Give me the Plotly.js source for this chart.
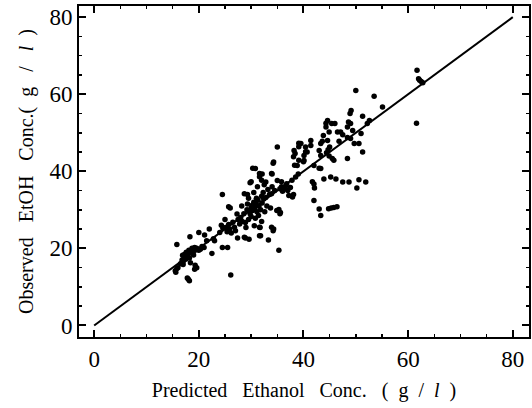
<!DOCTYPE html>
<html>
<head>
<meta charset="utf-8">
<script src="https://cdn.plot.ly/plotly-3.0.1.min.js"></script>
<style>html,body{margin:0;padding:0;background:#fff;}#chart{width:532px;height:408px;}</style>
</head>
<body>
<div id="chart"></div>
<script>
// Predicted ethanol concentration (g/l) and observed EtOH concentration (g/l)
const predicted = [
  15.5,15.8,15.6,16.0,15.8,16.5,16.8,17.0,17.2,17.3,17.5,17.6,17.8,18.0,18.1,18.2,18.4,18.5,18.7,18.9,19.0,19.2,19.4,19.6,18.0,18.2,17.8,19.3,19.6,19.2,18.3,20.0,20.3,20.6,21.0,21.1,21.5,22.0,22.5,22.8,23.0,20.0,17.0,16.9,
  24.5,25.5,26.1,24.5,24.0,24.3,24.6,25.0,25.1,25.4,25.7,25.9,26.2,26.5,26.8,27.0,27.3,27.5,27.8,28.0,28.3,28.6,25.7,26.0,27.4,28.7,28.9,29.6,28.9,29.3,29.0,29.5,
  29.8,30.0,30.2,30.3,30.5,30.6,30.7,30.9,31.0,31.1,31.3,31.5,31.6,31.6,31.7,31.8,31.8,32.0,32.1,32.3,32.4,32.6,32.8,33.0,33.2,33.3,33.5,33.7,33.9,33.9,34.2,34.3,34.0,34.5,34.9,35.5,35.3,30.0,29.8,30.3,30.8,31.6,31.6,32.0,32.1,32.8,34.0,33.9,34.2,34.3,35.0,28.7,29.3,30.5,31.2,32.5,29.5,30.8,31.4,32.0,29.2,30.0,28.2,
  35.0,35.8,35.3,35.6,35.5,35.8,36.3,36.0,36.6,37.0,37.2,37.9,38.1,37.5,38.5,37.8,38.2,38.4,38.1,38.8,38.3,39.1,39.1,39.5,39.1,40.1,40.1,40.4,40.7,40.0,40.4,41.4,41.4,36.8,39.0,
  43.0,42.0,42.1,41.7,42.0,43.0,43.3,44.8,45.3,45.8,46.4,43.3,43.9,45.2,46.2,47.5,48.7,50.6,51.9,50.2,43.3,43.0,44.7,44.4,45.0,44.9,45.5,45.8,43.3,43.6,44.6,43.8,44.9,44.3,44.6,44.3,45.4,46.0,46.5,47.1,48.6,48.4,49.0,48.4,49.0,49.4,51.0,51.3,48.4,49.7,50.6,49.1,48.9,51.3,52.6,52.2,50.0,53.5,55.1,47.5,46.8,42.0,
  61.7,62.0,62.2,62.5,62.8,61.6
];
const observed = [
  14.2,14.8,13.8,15.0,21.0,16.0,17.0,16.5,17.8,18.5,17.2,19.0,18.0,18.8,19.5,17.5,16.3,19.2,20.0,19.0,18.3,20.2,19.6,20.0,12.0,11.6,12.3,15.6,15.0,14.6,23.0,24.1,19.8,20.5,20.2,23.5,22.0,25.0,18.7,22.5,22.0,19.5,15.8,18.2,
  20.2,20.2,13.1,34.0,24.1,26.0,25.2,27.5,25.4,24.3,26.2,25.0,24.0,26.8,25.5,24.6,28.9,27.5,26.3,28.0,27.0,29.0,30.8,30.5,22.7,22.9,22.7,22.4,26.7,31.5,25.4,27.5,
  29.0,30.5,31.2,29.8,32.0,25.9,30.3,31.5,33.0,29.5,32.5,31.0,25.5,23.3,25.4,23.3,30.0,33.5,31.8,34.5,32.8,29.5,33.2,31.0,35.3,22.2,34.0,30.5,34.2,25.5,24.6,25.0,36.0,35.0,29.8,29.0,19.5,37.3,37.0,40.8,40.7,39.4,38.6,37.7,39.3,37.2,39.3,39.4,42.1,42.4,46.3,34.2,34.0,34.5,36.0,36.5,33.0,27.8,28.5,27.0,30.0,28.3,31.0,
  37.6,37.3,30.1,29.3,35.5,36.0,35.4,34.8,36.2,35.0,33.7,33.3,34.0,35.8,38.5,37.7,45.4,44.6,43.8,41.5,41.6,47.3,46.4,47.2,42.9,44.1,42.8,46.3,45.0,42.5,45.1,48.0,46.7,36.8,39.3,
  40.8,36.7,35.7,37.3,32.4,30.2,28.5,30.3,30.5,30.6,30.8,40.7,38.0,38.5,38.0,37.2,37.2,37.8,37.2,35.7,44.1,45.4,45.6,44.8,46.3,44.0,43.3,42.9,47.2,47.8,48.0,49.3,50.2,51.5,53.2,52.5,52.4,52.4,50.2,50.2,52.8,51.5,52.4,48.8,48.5,50.6,49.8,45.0,43.3,47.2,47.2,55.8,55.0,54.3,53.2,52.4,61.0,59.5,56.7,49.5,47.8,41.5,
  66.2,64.0,63.6,63.3,63.0,52.5
];
// Identity reference line (predicted = observed)
const lineX = [0, 80];
const lineY = [0, 80];
const tickVals = [0, 20, 40, 60, 80];

const serif = 'Liberation Serif, Times New Roman, serif';

const traces = [
  {x: lineX, y: lineY, type: 'scatter', mode: 'lines',
   line: {color: '#000', width: 2}, hoverinfo: 'skip', showlegend: false},
  {x: predicted, y: observed, type: 'scatter', mode: 'markers',
   marker: {color: '#000', size: 5.5, line: {width: 0}}, showlegend: false}
];

const axisCommon = {
  showgrid: false, zeroline: false, showline: true, linecolor: '#000', linewidth: 2,
  mirror: 'allticks', ticks: 'inside', ticklen: 7, tickwidth: 2, tickcolor: '#000',
  tickmode: 'array', tickvals: tickVals,
  tickfont: {family: serif, size: 23, color: '#000'},
  minor: {dtick: 5, ticks: 'inside', ticklen: 3, tickwidth: 1.5, tickcolor: '#000', showgrid: false}
};

const layout = {
  width: 532, height: 408,
  margin: {l: 79, r: 3, t: 6, b: 71},
  paper_bgcolor: '#fff', plot_bgcolor: '#fff',
  xaxis: Object.assign({}, axisCommon, {
    range: [-2.9, 83.1],
    title: {text: 'Predicted\u00a0\u00a0\u00a0Ethanol\u00a0\u00a0\u00a0Conc.\u00a0\u00a0\u00a0(\u00a0\u00a0g\u00a0\u00a0/\u00a0\u00a0<i>l</i>\u00a0\u00a0)', font: {family: serif, size: 20, color: '#000'}, standoff: 12}
  }),
  yaxis: Object.assign({}, axisCommon, {
    range: [-3.0, 82.9],
    title: {text: 'Observed\u00a0\u00a0\u00a0EtOH\u00a0\u00a0\u00a0Conc.(\u00a0\u00a0g\u00a0\u00a0\u00a0/\u00a0\u00a0\u00a0<i>l</i>\u00a0\u00a0)', font: {family: serif, size: 20, color: '#000'}, standoff: 10}
  })
};

Plotly.newPlot('chart', traces, layout, {staticPlot: true, displayModeBar: false});
</script>
</body>
</html>
